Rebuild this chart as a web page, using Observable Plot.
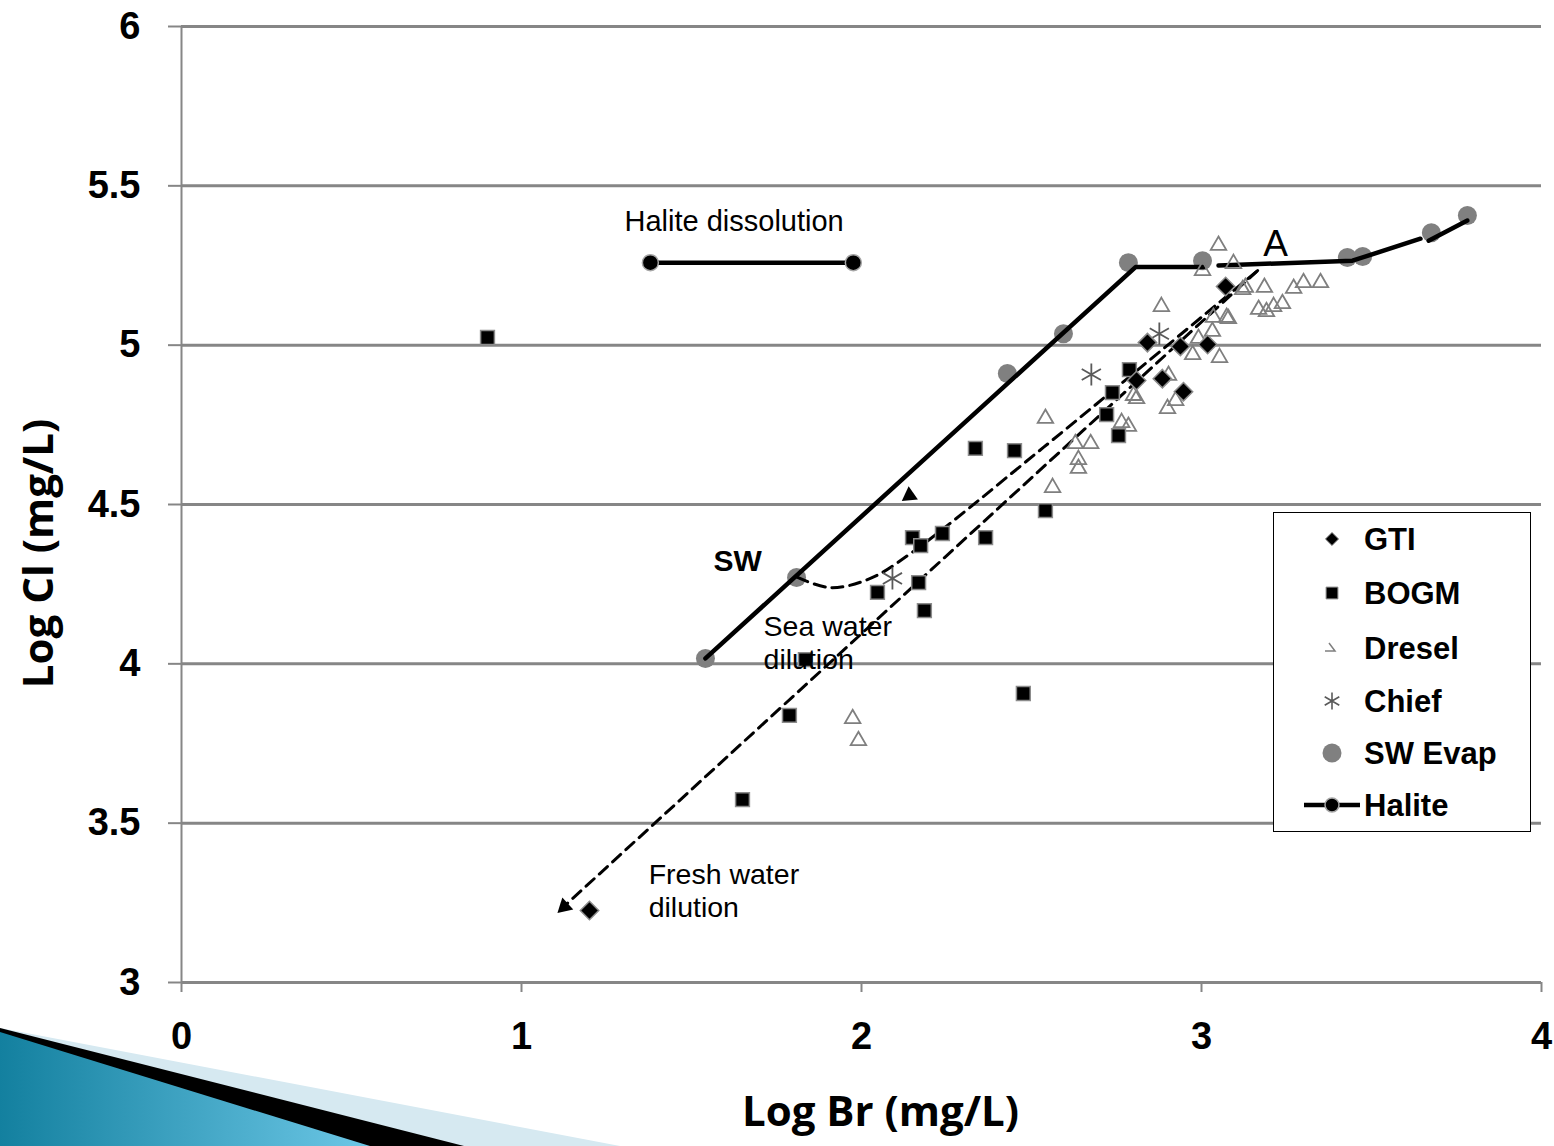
<!DOCTYPE html>
<html><head><meta charset="utf-8">
<script src="https://cdn.jsdelivr.net/npm/d3@7"></script>
<script src="https://cdn.jsdelivr.net/npm/@observablehq/plot@0.6"></script>
<style>
body{margin:0;background:#fff;}
#wrap{position:relative;width:1554px;height:1146px;overflow:hidden;font-family:"Liberation Sans",Arial,sans-serif;}
#wrap > svg{position:absolute;left:0;top:0;}
#legend{position:absolute;left:1273px;top:512px;width:256px;height:318px;border:1.5px solid #000;background:#fff;}
#deco{position:absolute;left:0;top:0;pointer-events:none;}
</style></head><body><div id="wrap"></div>
<script>
// ---- tick labels ----
const xTicks = [0, 1, 2, 3, 4];
const yTicks = [3, 3.5, 4, 4.5, 5, 5.5, 6];

// ---- series: GTI ----
const gtiX = [1.200, 2.809, 2.841, 2.885, 2.938, 2.947, 3.018, 3.071];
const gtiY = [3.226, 4.889, 5.008, 4.895, 4.996, 4.854, 5.002, 5.184];

// ---- series: BOGM ----
const bogmX = [0.900, 1.650, 1.788, 1.835, 2.047, 2.150, 2.174, 2.238, 2.168, 2.185, 2.365, 2.335, 2.450, 2.541, 2.476, 2.721, 2.756, 2.788, 2.738];
const bogmY = [5.024, 3.574, 3.838, 4.013, 4.224, 4.396, 4.371, 4.409, 4.255, 4.167, 4.396, 4.676, 4.669, 4.481, 3.907, 4.782, 4.716, 4.923, 4.851];

// ---- series: Dresel ----
const dreselX = [1.974, 1.991, 2.541, 2.562, 2.629, 2.674, 2.638, 2.638, 2.765, 2.785, 2.800, 2.809, 2.900, 2.903, 2.924, 2.882, 2.974, 2.991, 3.032, 3.053, 3.003, 3.050, 3.094, 3.035, 3.074, 3.079, 3.129, 3.121, 3.185, 3.271, 3.300, 3.350, 3.168, 3.191, 3.212, 3.238];
const dreselY = [3.828, 3.759, 4.770, 4.553, 4.691, 4.691, 4.641, 4.613, 4.757, 4.745, 4.842, 4.832, 4.801, 4.905, 4.826, 5.121, 4.970, 5.021, 5.043, 4.961, 5.234, 5.313, 5.256, 5.087, 5.087, 5.083, 5.181, 5.174, 5.181, 5.178, 5.196, 5.196, 5.112, 5.105, 5.121, 5.130];

// ---- series: Chief ----
const chiefX = [2.091, 2.676, 2.876];
const chiefY = [4.268, 4.908, 5.036];

// ---- series: SW Evap ----
const swEvapX = [1.541, 1.809, 2.429, 2.594, 2.785, 3.003, 3.429, 3.474, 3.676, 3.782];
const swEvapY = [4.017, 4.271, 4.911, 5.036, 5.259, 5.265, 5.275, 5.278, 5.353, 5.407];

// ---- Halite (evaporation path, drawn in segments) ----
const haliteSeg = [1, 1, 1, 2, 2, 2, 3, 3];
const haliteX = [1.541, 2.806, 3.006, 3.050, 3.444, 3.644, 3.668, 3.782];
const haliteY = [4.017, 5.245, 5.245, 5.250, 5.265, 5.334, 5.328, 5.391];

// ---- Halite dissolution ----
const halDisX = [1.379, 1.976];
const halDisY = [5.259, 5.259];

// ---- dilution trend lines ----
const seaDilX = [1.812, 1.909, 2.026, 2.144, 2.535, 3.165];
const seaDilY = [4.271, 4.239, 4.268, 4.346, 4.679, 5.234];
const freshDilX = [3.165, 1.115];
const freshDilY = [5.234, 3.229];

// ---- arrow heads ----
const arrowX = [1.126, 2.141];
const arrowY = [3.238, 4.528];
const arrowRot = [227.5, -5];

// ---- annotations ----
const noteText = ["Halite dissolution", "A", "SW", "Sea water\ndilution", "Fresh water\ndilution"];
const noteX = [1.303, 3.218, 1.565, 1.712, 1.374];
const noteY = [5.432, 5.374, 4.370, 4.161, 3.383];
const noteSize = [29, 37, 30, 28.5, 28.5];
const noteWeight = ["normal", "normal", "bold", "normal", "normal"];
const noteAnchor = ["start", "middle", "start", "start", "start"];

const zip = (xs, ys) => xs.map((x, i) => ({x, y: ys[i]}));
const gti = zip(gtiX, gtiY);
const bogm = zip(bogmX, bogmY);
const dresel = zip(dreselX, dreselY);
const chief = zip(chiefX, chiefY);
const swEvap = zip(swEvapX, swEvapY);
const halite = haliteX.map((x, i) => ({x, y: haliteY[i], seg: haliteSeg[i]}));
const halDis = zip(halDisX, halDisY);
const seaDil = zip(seaDilX, seaDilY);
const freshDil = zip(freshDilX, freshDilY);
const arrows = arrowX.map((x, i) => ({x, y: arrowY[i], r: arrowRot[i]}));
const notes = noteText.map((t, i) => ({t, x: noteX[i], y: noteY[i]}));

const GRID = "#868686";
const marks = [
  Plot.ruleY(yTicks.filter(d => d > 3), {stroke: GRID, strokeWidth: 3}),
  Plot.ruleY([3], {stroke: GRID, strokeWidth: 3}),
  Plot.ruleX([0], {stroke: GRID, strokeWidth: 2}),
  Plot.axisY({ticks: yTicks, tickSize: 13, tickPadding: 28, stroke: GRID, strokeWidth: 2, fill: "#000",
    fontSize: 38, fontWeight: "bold", tickFormat: d => String(d), label: null}),
  Plot.axisX({ticks: xTicks, tickSize: 10, tickPadding: 30, stroke: GRID, strokeWidth: 2, fill: "#000",
    fontSize: 38, fontWeight: "bold", tickFormat: d => String(d), label: null}),
  Plot.text(["Log Br (mg/L)"], {frameAnchor: "bottom", lineAnchor: "top", dy: 114, dx: 19,
    fontSize: 42, fontWeight: "bold", fontFamily: "Open Sans", fill: "#000"}),
  Plot.text(["Log Cl (mg/L)"], {frameAnchor: "left", rotate: -90, lineAnchor: "middle", textAnchor: "middle",
    dx: -142, dy: 49, fontSize: 42, fontWeight: "bold", fontFamily: "Open Sans", fill: "#000"}),
  // SW Evap
  Plot.dot(swEvap, {x: "x", y: "y", r: 9.5, fill: "#808080", stroke: "none"}),
  // Halite evaporation path
  Plot.line(halite, {x: "x", y: "y", z: "seg", stroke: "#000", strokeWidth: 4.5}),
  // dilution lines
  Plot.line(seaDil, {x: "x", y: "y", curve: "catmull-rom", stroke: "#000", strokeWidth: 3, strokeDasharray: "11,7"}),
  Plot.line(freshDil, {x: "x", y: "y", stroke: "#000", strokeWidth: 3, strokeDasharray: "11,7"}),
  Plot.dot(arrows, {x: "x", y: "y", rotate: "r", symbol: "triangle", r: 6, fill: "#000", stroke: "none"}),
  // Dresel
  Plot.dot(dresel, {x: "x", y: "y", symbol: "triangle2", r: 7.4, fill: "none", stroke: "#7f7f7f", strokeWidth: 1.8}),
  // Chief
  Plot.dot(chief, {x: "x", y: "y", symbol: "asterisk", r: 10.5, fill: "none", stroke: "#5a5a5a", strokeWidth: 1.8}),
  // BOGM
  Plot.dot(bogm, {x: "x", y: "y", symbol: "square", r: 7.8, fill: "#000", stroke: "#8c8c8c", strokeWidth: 1.5}),
  // GTI
  Plot.dot(gti, {x: "x", y: "y", symbol: "diamond2", r: 8.3, fill: "#000", stroke: "#8c8c8c", strokeWidth: 1.5}),
  // Halite dissolution
  Plot.line(halDis, {x: "x", y: "y", stroke: "#000", strokeWidth: 4.5}),
  Plot.dot(halDis, {x: "x", y: "y", r: 8, fill: "#000", stroke: "#a6a6a6", strokeWidth: 1.5}),
  // annotations
  ...notes.map((n, i) => Plot.text([n], {x: "x", y: "y", text: "t", lineAnchor: "top", lineHeight: 1.16,
    textAnchor: noteAnchor[i], fontSize: noteSize[i], fontWeight: noteWeight[i], fill: "#000"}))
];

const chart = Plot.plot({
  width: 1554, height: 1146,
  marginLeft: 181, marginRight: 13, marginTop: 26, marginBottom: 164,
  x: {domain: [0, 4], label: null},
  y: {domain: [3, 6], label: null},
  style: {fontFamily: "'Liberation Sans', Arial, sans-serif", background: "transparent", overflow: "visible"},
  marks
});
const wrap = document.getElementById("wrap");
wrap.appendChild(chart);

// ---- legend ----
const legendNames = ["GTI", "BOGM", "Dresel", "Chief", "SW Evap", "Halite"];
const leg = d3.select(wrap).append("div").attr("id", "legend");
const ls = leg.append("svg").attr("width", 256).attr("height", 318).style("display", "block");
const rowY = [26, 80, 135, 188, 240, 292];
const sx = 58;
legendNames.forEach((name, i) => {
  const g = ls.append("g").attr("transform", `translate(${sx},${rowY[i]})`);
  if (name === "GTI") g.append("path").attr("d", d3.symbol(d3.symbolDiamond2, 110)()).attr("fill", "#000").attr("stroke", "#8c8c8c");
  if (name === "BOGM") g.append("path").attr("d", d3.symbol(d3.symbolSquare, 140)()).attr("fill", "#000").attr("stroke", "#8c8c8c");
  if (name === "Dresel") g.append("path").attr("d", "M-3,-5 L3,3 L-7,3").attr("fill", "none").attr("stroke", "#7f7f7f").attr("stroke-width", 1.5);
  if (name === "Chief") g.append("path").attr("d", d3.symbol(d3.symbolAsterisk, 200)()).attr("fill", "none").attr("stroke", "#5a5a5a").attr("stroke-width", 1.6);
  if (name === "SW Evap") g.append("circle").attr("r", 9.5).attr("fill", "#808080");
  if (name === "Halite") {
    g.append("line").attr("x1", -28).attr("x2", 28).attr("stroke", "#000").attr("stroke-width", 4.5);
    g.append("circle").attr("r", 7).attr("fill", "#000").attr("stroke", "#a6a6a6").attr("stroke-width", 1.5);
  }
  ls.append("text").attr("x", 90).attr("y", rowY[i]).attr("dy", "0.36em")
    .attr("font-family", "'Liberation Sans', Arial, sans-serif").attr("font-weight", "bold").attr("font-size", 31)
    .text(name);
});

// ---- decorative slide corner ----
const deco = d3.select(wrap).append("svg").attr("id", "deco").attr("width", 1554).attr("height", 1146);
const defs = deco.append("defs");
const grad = defs.append("linearGradient").attr("id", "tealGrad").attr("x1", 0).attr("y1", 0).attr("x2", 1).attr("y2", 0);
grad.append("stop").attr("offset", "0%").attr("stop-color", "#13809f");
grad.append("stop").attr("offset", "100%").attr("stop-color", "#6cc7e6");
deco.append("polygon").attr("points", "0,1028 620,1146 0,1146").attr("fill", "#d6e9f1");
deco.append("polygon").attr("points", "0,1028 464,1146 0,1146").attr("fill", "#000");
deco.append("polygon").attr("points", "0,1032 370,1146 0,1146").attr("fill", "url(#tealGrad)");
</script></body></html>
